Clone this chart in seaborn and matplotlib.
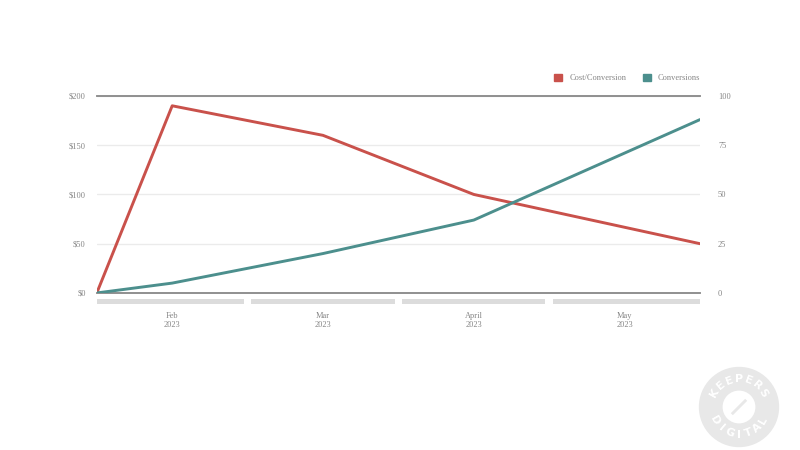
import numpy as np
import pandas as pd
import matplotlib
matplotlib.use("Agg")
import matplotlib.pyplot as plt
import matplotlib.transforms as mtransforms
from matplotlib.patches import Patch, Rectangle, Circle, Polygon
import seaborn as sns

# ----------------------------
# data
# ----------------------------
period_pos = [0.0, 0.5, 1.5, 2.5, 4.0]          # position along month bands
cost_per_conv = [0, 190, 160, 100, 50]          # $ (left axis)
conversions = [0, 5, 20, 37, 88]                # count (right axis)
months = ["Feb", "Mar", "April", "May"]
years = ["2023", "2023", "2023", "2023"]

RED = "#c9514b"
TEAL = "#4c8f8d"
TXT = "#858585"

df = pd.DataFrame({"pos": period_pos, "cost": cost_per_conv, "conv": conversions})

sns.set_theme(style="white")
plt.rcParams["font.family"] = ["Liberation Serif", "DejaVu Serif"]

fig = plt.figure(figsize=(8, 4.5), dpi=100)
ax = fig.add_axes([0.121, 0.349, 0.754, 0.4378])
ax2 = ax.twinx()

sns.lineplot(data=df, x="pos", y="cost", ax=ax, color=RED, linewidth=2.1, zorder=3)
sns.lineplot(data=df, x="pos", y="conv", ax=ax2, color=TEAL, linewidth=2.1, zorder=3)

ax.set_xlim(0, 4)
ax.set_ylim(0, 200)
ax2.set_ylim(0, 100)

# left axis
ax.set_yticks([0, 50, 100, 150, 200])
ax.set_yticklabels([f"${v}" for v in [0, 50, 100, 150, 200]])
ax.tick_params(axis="y", length=0, pad=8, labelsize=6, labelcolor=TXT)
ax.yaxis.grid(True, color="#ebebeb", linewidth=1)
ax.set_axisbelow(True)

# right axis
ax2.set_yticks([0, 25, 50, 75, 100])
ax2.tick_params(axis="y", length=0, pad=13, labelsize=6, labelcolor=TXT)

# month ticks
ax.set_xticks([i + 0.5 for i in range(len(months))])
ax.set_xticklabels([f"{m}\n{y}" for m, y in zip(months, years)], linespacing=1.05)
ax.tick_params(axis="x", length=0, pad=14, labelsize=6, labelcolor=TXT)
ax.set_xlabel("")
ax.set_ylabel("")
ax2.set_ylabel("")

for a in (ax, ax2):
    a.spines["left"].set_visible(False)
    a.spines["right"].set_visible(False)
    a.spines["top"].set_color("#8f8f8f")
    a.spines["bottom"].set_color("#8f8f8f")
    a.spines["top"].set_linewidth(1.2)
    a.spines["bottom"].set_linewidth(1.2)

# grey month bands under the axis
trans = mtransforms.blended_transform_factory(ax.transData, ax.transAxes)
n = len(months)
for i in range(n):
    left = i + (0.025 if i > 0 else 0)
    right = i + 1 - (0.025 if i < n - 1 else 0)
    ax.add_patch(Rectangle((left, -0.056), right - left, 0.026, transform=trans,
                           color="#dcdcdc", clip_on=False, linewidth=0))

# legend
handles = [Patch(color=RED, label="Cost/Conversion"), Patch(color=TEAL, label="Conversions")]
fig.legend(handles=handles, loc="upper right", bbox_to_anchor=(0.885, 0.852), ncol=2,
           frameon=False, fontsize=6, labelcolor=TXT, handlelength=0.9, handleheight=0.9,
           columnspacing=2.0, handletextpad=0.9)

# watermark badge
bx = fig.add_axes([698 / 800, 1 - 448 / 450, 82 / 800, 82 / 450])
bx.set_xlim(-1, 1)
bx.set_ylim(-1, 1)
bx.set_aspect("equal")
bx.axis("off")
bx.add_patch(Circle((0, 0), 0.98, color="#e8e8e8", linewidth=0))
bx.add_patch(Circle((0, 0), 0.40, color="white", linewidth=0))
bx.add_patch(Polygon([[-0.15, -0.2], [0.2, 0.15], [0.15, 0.2], [-0.2, -0.15]],
                     closed=True, color="#e8e8e8", linewidth=0))
for word, start, end, flip in [("KEEPERS", 150, 30, False), ("DIGITAL", 210, 330, True)]:
    angles = np.linspace(start, end, len(word))
    for ch, ang in zip(word, angles):
        r = 0.68
        x, y = r * np.cos(np.radians(ang)), r * np.sin(np.radians(ang))
        rot = ang - 90 if not flip else ang + 90
        bx.text(x, y, ch, ha="center", va="center", rotation=rot, color="white",
                fontsize=8, fontweight="bold", family="DejaVu Sans")

fig.savefig("out.png", dpi=100)
